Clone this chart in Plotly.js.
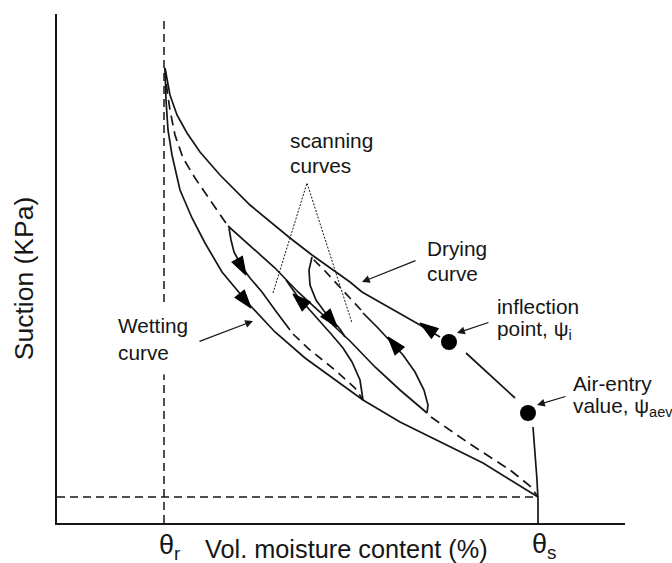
<!DOCTYPE html>
<html>
<head>
<meta charset="utf-8">
<script src="https://cdn.plot.ly/plotly-3.0.1.min.js"></script>
<style>html,body{margin:0;padding:0;background:#fff;}#chart{width:672px;height:563px;}</style>
</head>
<body>
<div id="chart"></div>
<script>
// Schematic soil-water characteristic curve (hysteresis). x: vol. moisture content, y: suction (arbitrary schematic units)
const thetaR = 10.7;
const thetaS = 48.1;
const residualTop = 50.4;
const baseSuction = 2.6;

// Main drying curve (upper solid), split where the two marked points interrupt it
const dryX1 = [10.8, 11.0, 11.3, 12.0, 13.0, 14.3, 16.3, 19.3, 23.3, 25.5, 28.0, 29.3, 30.5, 33.0, 36.3, 38.3];
const dryY1 = [45.5, 44.3, 42.8, 40.8, 39.0, 37.1, 34.8, 31.8, 28.5, 26.8, 25.0, 24.1, 23.1, 21.7, 19.8, 18.6];
const dryX2 = [40.9, 43.3, 45.8];
const dryY2 = [17.0, 14.8, 12.5];
const dryX3 = [47.6, 47.8, 48.0, 48.1, 48.1];
const dryY3 = [9.6, 7.3, 4.3, 2.3, 0.0];

// Main wetting curve (lower solid)
const wetX = [10.8, 10.9, 11.1, 11.5, 12.3, 13.5, 14.8, 16.5, 19.0, 21.8, 24.8, 27.8, 30.6, 34.3, 38.3, 42.6, 48.1];
const wetY = [45.5, 42.3, 39.3, 36.8, 33.3, 30.5, 28.0, 25.1, 22.1, 19.1, 16.5, 14.3, 12.3, 10.1, 8.1, 6.0, 2.6];

// Middle dashed curve: upper part, solid middle part, lower dashed part
const midUpX = [10.8, 11.0, 11.3, 11.8, 12.6, 13.8, 15.3, 17.1];
const midUpY = [45.5, 43.3, 41.3, 38.8, 36.5, 34.5, 32.3, 29.7];
const midSolX = [17.1, 19.3, 21.8, 24.1, 26.3, 27.8, 29.3, 31.8, 34.3, 37.0];
const midSolY = [29.7, 27.7, 25.5, 23.1, 21.1, 19.6, 18.2, 15.6, 13.3, 11.0];
const midLowX = [37.4, 41.3, 45.3, 47.3, 48.1];
const midLowY = [10.6, 7.9, 5.3, 3.7, 2.6];

// Scanning loop 1
const scan1WetX = [17.2, 17.4, 17.7, 18.1, 18.5, 19.3, 20.5, 21.8, 23.3];
const scan1WetY = [29.5, 28.3, 27.1, 26.3, 25.6, 24.5, 23.1, 21.3, 19.3];
const scan1DashX = [23.6, 25.3, 27.8, 29.8, 30.6];
const scan1DashY = [18.9, 17.3, 15.3, 13.5, 12.3];
const scan1DryX = [30.6, 30.3, 29.5, 28.6, 27.5, 26.3, 25.1, 24.1, 22.9];
const scan1DryY = [12.3, 14.3, 16.1, 17.5, 18.8, 20.1, 21.5, 22.6, 24.3];

// Scanning loop 2
const scan2WetX = [25.5, 25.2, 25.3, 25.9, 26.7, 27.5, 28.3, 28.8];
const scan2WetY = [26.6, 25.3, 23.8, 22.3, 21.2, 20.3, 19.4, 18.6];
const scan2DryX = [37.0, 37.1, 36.7, 35.8, 34.6, 33.5, 32.1, 30.6];
const scan2DryY = [11.0, 11.8, 13.3, 15.1, 16.8, 18.0, 19.5, 21.0];
const scan2DashX = [30.4, 29.3, 28.1, 26.8, 25.6];
const scan2DashY = [21.3, 22.5, 23.8, 25.2, 26.4];

// Marked points: inflection point and air-entry value
const pointX = [39.2, 47.1];
const pointY = [18.1, 11.0];

// Direction arrows on curves: [from, tip] pairs
const arrowFromX = [17.8, 17.9, 25.1, 26.7, 34.6, 38.3];
const arrowFromY = [23.5, 26.6, 21.5, 21.2, 16.8, 18.6];
const arrowTipX  = [19.4, 18.9, 23.6, 28.0, 33.1, 36.3];
const arrowTipY  = [21.5, 24.8, 22.9, 19.6, 18.6, 20.0];

// "scanning curves" pointer lines
const scanPtrX = [21.6, 25.0, 29.5];
const scanPtrY = [23.0, 34.0, 20.0];

// Labels
const labelTexts = ['scanning', 'curves', 'Drying', 'curve', 'inflection', 'point, ψ<sub>i</sub>', 'Air-entry', 'value, ψ<sub>aev</sub>'];
const labelX = [23.1, 23.1, 36.8, 36.8, 43.8, 43.8, 51.4, 51.4];
const labelY = [38.3, 35.8, 27.5, 25.0, 21.7, 19.3, 14.0, 11.6];
const wetLabel = 'Wetting<br>curve';
const wetLabelX = 5.0;
const wetLabelY = 18.4;

// Pointer arrows for labels (tail -> tip)
const ptrTailX = [36.0, 14.1, 43.3, 51.0];
const ptrTailY = [26.3, 18.1, 20.1, 12.7];
const ptrTipX  = [30.5, 19.6, 40.0, 48.0];
const ptrTipY  = [24.1, 20.2, 19.0, 11.8];

const xTitle = 'Vol. moisture content (%)';
const yTitle = 'Suction (KPa)';
const thetaLabels = ['θ<sub>r</sub>', 'θ<sub>s</sub>'];

const INK = '#161616';
const FONT = 'Arial, "Liberation Sans", Helvetica, sans-serif';

function line(x, y, dash, w) {
  return {type: 'scatter', mode: 'lines', x: x, y: y, hoverinfo: 'skip',
          line: {color: INK, width: w || 1.7, dash: dash || 'solid'}};
}

const traces = [
  line([thetaR, thetaR], [0, residualTop], '8px,5px', 1.5),
  line([0, thetaS], [baseSuction, baseSuction], '8px,5px', 1.5),
  line(dryX1, dryY1), line(dryX2, dryY2), line(dryX3, dryY3),
  line(wetX, wetY),
  line(midUpX, midUpY, '10px,6px'), line(midSolX, midSolY), line(midLowX, midLowY, '10px,6px'),
  line(scan1WetX, scan1WetY), line(scan1DashX, scan1DashY, '9px,6px'), line(scan1DryX, scan1DryY),
  line(scan2WetX, scan2WetY), line(scan2DryX, scan2DryY), line(scan2DashX, scan2DashY, '9px,6px'),
  line(scanPtrX, scanPtrY, '2px,1.5px', 1),
  {type: 'scatter', mode: 'markers', x: pointX, y: pointY, hoverinfo: 'skip',
   marker: {color: '#000', size: 16, opacity: 1, line: {width: 0}}}
];

// arrowheads on curves
const ax = [], ay = [], as = [];
for (let i = 0; i < arrowTipX.length; i++) {
  ax.push(arrowFromX[i], arrowTipX[i]);
  ay.push(arrowFromY[i], arrowTipY[i]);
  as.push(0, 19);
}
traces.push({type: 'scatter', mode: 'markers', x: ax, y: ay, hoverinfo: 'skip', opacity: 1,
  marker: {symbol: 'arrow', angleref: 'previous', size: as, color: '#000', opacity: 1,
           line: {width: 1.2, color: '#000'}}});

const annotations = [];
for (let i = 0; i < labelTexts.length; i++) {
  annotations.push({x: labelX[i], y: labelY[i], xref: 'x', yref: 'y', text: labelTexts[i],
    showarrow: false, xanchor: 'left', yanchor: 'middle',
    font: {family: FONT, size: 20.8, color: INK}});
}
annotations.push({x: wetLabelX, y: wetLabelY, xref: 'x', yref: 'y', text: wetLabel,
  showarrow: false, xanchor: 'left', yanchor: 'middle', align: 'left',
  bgcolor: '#fff', borderpad: 10,
  font: {family: FONT, size: 20.8, color: INK}});
for (let i = 0; i < ptrTipX.length; i++) {
  annotations.push({x: ptrTipX[i], y: ptrTipY[i], ax: ptrTailX[i], ay: ptrTailY[i],
    xref: 'x', yref: 'y', axref: 'x', ayref: 'y', text: '', showarrow: true,
    arrowhead: 2, arrowsize: 1.3, arrowwidth: 1.2, arrowcolor: INK});
}
annotations.push({x: 0.5097, y: -0.051, xref: 'paper', yref: 'paper', text: xTitle, showarrow: false,
  xanchor: 'center', yanchor: 'middle', font: {family: FONT, size: 25.3, color: INK}});
annotations.push({x: -0.058, y: 0.481, xref: 'paper', yref: 'paper', text: yTitle, showarrow: false, textangle: -90,
  xanchor: 'center', yanchor: 'middle', font: {family: FONT, size: 26.5, color: INK}});
annotations.push({x: 0.176, y: -0.047, xref: 'paper', yref: 'paper', text: thetaLabels[0], showarrow: false,
  xanchor: 'left', yanchor: 'middle', font: {family: FONT, size: 27, color: INK}});
annotations.push({x: 0.8327, y: -0.045, xref: 'paper', yref: 'paper', text: thetaLabels[1], showarrow: false,
  xanchor: 'left', yanchor: 'middle', font: {family: FONT, size: 27, color: INK}});

const axisBase = {showgrid: false, zeroline: false, showticklabels: false, ticks: '',
  showline: true, linecolor: INK, linewidth: 2, fixedrange: true};

const layout = {
  width: 672, height: 563,
  margin: {l: 57, r: 47, t: 14, b: 40, pad: 0},
  paper_bgcolor: '#fff', plot_bgcolor: '#fff',
  showlegend: false,
  xaxis: Object.assign({range: [0, 56.8]}, axisBase),
  yaxis: Object.assign({range: [0, 50.9]}, axisBase),
  annotations: annotations
};

Plotly.newPlot('chart', traces, layout, {staticPlot: true, displayModeBar: false});
</script>
</body>
</html>
